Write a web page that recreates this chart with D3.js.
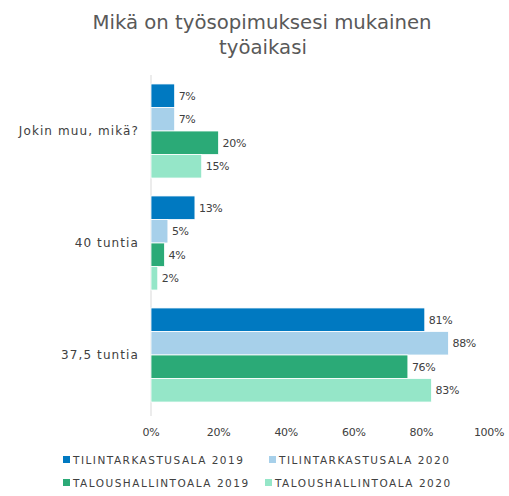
<!DOCTYPE html>
<html>
<head>
<meta charset="utf-8">
<script src="https://cdn.jsdelivr.net/npm/d3@7"></script>
<style>
  body { margin: 0; background: #fff; }
  text { font-family: "Century Gothic", "DejaVu Sans", sans-serif; }
</style>
</head>
<body>
<svg id="chart" width="509" height="496"></svg>
<script>
// data
var categories = ['Jokin muu, mikä?', '40 tuntia', '37,5 tuntia'];
var seriesNames = ['TILINTARKASTUSALA 2019', 'TILINTARKASTUSALA 2020', 'TALOUSHALLINTOALA 2019', 'TALOUSHALLINTOALA 2020'];
var tilintarkastus2019 = [7, 13, 81];
var tilintarkastus2020 = [7, 5, 88];
var taloushallinto2019 = [20, 4, 76];
var taloushallinto2020 = [15, 2, 83];
var xTicks = [0, 20, 40, 60, 80, 100];

var colors = ['#0079C1', '#A7D0EA', '#2BAA77', '#95E6C8'];
var allSeries = [tilintarkastus2019, tilintarkastus2020, taloushallinto2019, taloushallinto2020];
var textCol = '#404040';

var svg = d3.select('#chart');

svg.append('text')
  .attr('x', 262).attr('y', 29)
  .attr('text-anchor', 'middle')
  .attr('font-size', 19.7).attr('fill', '#595959')
  .text('Mikä on työsopimuksesi mukainen');
svg.append('text')
  .attr('x', 263).attr('y', 54)
  .attr('text-anchor', 'middle')
  .attr('font-size', 19.7).attr('fill', '#595959')
  .text('työaikasi');

var x = d3.scaleLinear().domain([0, 100]).range([151, 489]);
var y = d3.scaleBand().domain(categories).range([75, 411]).paddingInner(0.16).paddingOuter(0.08);
var ySub = d3.scaleBand().domain(d3.range(4)).range([0, y.bandwidth()]);

// axis line
svg.append('line')
  .attr('x1', x(0)).attr('x2', x(0))
  .attr('y1', 75).attr('y2', 416)
  .attr('stroke', '#d9d9d9').attr('stroke-width', 1);

var groups = svg.selectAll('g.cat')
  .data(categories)
  .enter().append('g')
  .attr('class', 'cat')
  .attr('transform', function (d) { return 'translate(0,' + y(d) + ')'; });

groups.each(function (cat, ci) {
  var g = d3.select(this);
  allSeries.forEach(function (vals, si) {
    g.append('rect')
      .attr('x', x(0))
      .attr('y', ySub(si))
      .attr('width', x(vals[ci]) - x(0))
      .attr('height', ySub.bandwidth())
      .attr('fill', colors[si])
      .attr('stroke', '#fff').attr('stroke-width', 0.8);
    g.append('text')
      .attr('x', x(vals[ci]) + 4)
      .attr('y', ySub(si) + ySub.bandwidth() / 2)
      .attr('dy', '0.35em')
      .attr('font-size', 11).attr('fill', textCol)
      .attr('letter-spacing', -0.3)
      .text(vals[ci] + '%');
  });
});

// category labels
svg.selectAll('text.cat')
  .data(categories)
  .enter().append('text')
  .attr('class', 'cat')
  .attr('x', 139)
  .attr('y', function (d) { return y(d) + y.bandwidth() / 2; })
  .attr('dy', '0.35em')
  .attr('text-anchor', 'end')
  .attr('font-size', 12).attr('fill', textCol)
  .attr('letter-spacing', 1.1)
  .text(function (d) { return d; });

// x tick labels
svg.selectAll('text.tick')
  .data(xTicks)
  .enter().append('text')
  .attr('class', 'tick')
  .attr('x', function (d) { return x(d); })
  .attr('y', 432)
  .attr('dy', '0.35em')
  .attr('text-anchor', 'middle')
  .attr('font-size', 11).attr('fill', textCol)
  .attr('letter-spacing', -0.3)
  .text(function (d) { return d + '%'; });

// legend
var legendPos = [[63, 460], [269, 460], [63, 483], [265, 483]];
seriesNames.forEach(function (name, i) {
  var p = legendPos[i];
  svg.append('rect')
    .attr('x', p[0]).attr('y', p[1] - 4)
    .attr('width', 7).attr('height', 7)
    .attr('fill', colors[i]);
  svg.append('text')
    .attr('x', p[0] + 10).attr('y', p[1])
    .attr('dy', '0.35em')
    .attr('font-size', 10.5).attr('fill', textCol)
    .attr('letter-spacing', 1.5)
    .text(name);
});
</script>
</body>
</html>
